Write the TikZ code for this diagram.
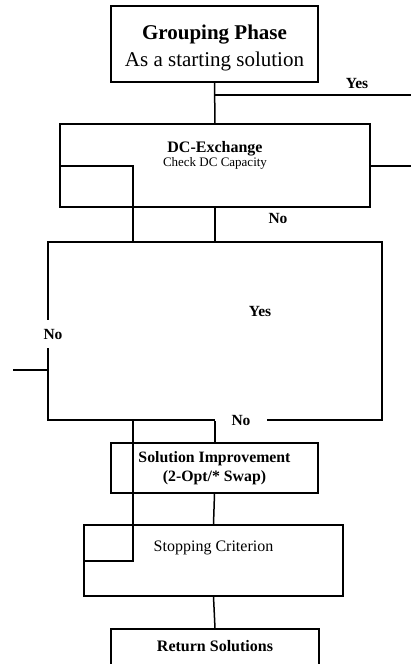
\documentclass[tikz,border=0pt]{standalone}
\usepackage{fontspec}
\setmainfont{Liberation Serif}
\usetikzlibrary{positioning}
\begin{document}
\begin{tikzpicture}[x=1pt,y=-1pt,
  box/.style={draw,line width=1.5pt,inner sep=0pt},
  wire/.style={line width=1.5pt},
  tag/.style={font=\fontsize{15.5}{17}\selectfont\bfseries,inner sep=0pt},
  gap/.style={tag,fill=white}]
  \useasboundingbox (0,0) rectangle (411,664);
  \clip (0,0) rectangle (411,664);
  \node[box,minimum width=207,minimum height=76] (group) at (214.5,44) {};
  \node[align=center,inner sep=0pt,font=\fontsize{21}{27}\selectfont]
    (grouptext) at ([yshift=-4pt]group.center)
    {\textbf{Grouping Phase}\\As a starting solution};
  \node[box,minimum width=310,minimum height=83] (dc) at (215,165.5) {};
  \node[align=center,inner sep=0pt,below=18pt of dc.north] (dctext)
    {{\fontsize{16}{16}\selectfont\bfseries DC-Exchange}\\[0pt]
     {\fontsize{13}{13}\selectfont Check DC Capacity}};
  \node[box,minimum width=334,minimum height=178] (big) at (215,331) {};
  \node[box,minimum width=207,minimum height=50,align=center,
        font=\fontsize{15.8}{19}\selectfont\bfseries] (si) at (214.5,468)
    {Solution Improvement\\(2-Opt/* Swap)};
  \node[box,minimum width=259,minimum height=71] (stop) at (213.5,560.5) {};
  \node[inner sep=0pt,font=\fontsize{16}{18}\selectfont,below=16pt of stop.north] (stoptext)
    {Stopping Criterion};
  \node[box,minimum width=208,minimum height=60] (ret) at (215,659) {};
  \node[inner sep=0pt,font=\fontsize{16}{18}\selectfont\bfseries,below=12pt of ret.north] (rettext)
    {Return Solutions};

  \node[gap,inner xsep=2pt,inner ysep=9pt] (noleft) at (53,334) {No};
  \node[gap,inner xsep=16.5pt,inner ysep=4pt] (nobottom) at (241,420) {No};

  \coordinate (yesend) at (411,95);
  \coordinate (dcout) at (411,166);
  \coordinate (bend1) at (133,166);
  \coordinate (bend2) at (133,561);
  \coordinate (stub) at (13,370);
  \draw[wire] (group.south) -- (dc.north);
  \draw[wire] (group.south |- yesend) -- (yesend);
  \draw[wire] (dc.east |- dcout) -- (dcout);
  \draw[wire] (dc.west |- bend1) -- (bend1) -- (bend1 |- big.north);
  \draw[wire] (dc.south) -- (dc.south |- big.north);
  \draw[wire] (bend1 |- big.south) -- (bend2) -- (stop.west |- bend2);
  \draw[wire] (big.south) -- (big.south |- si.north);
  \draw[wire] (si.south) -- (stop.north);
  \draw[wire] (stop.south) -- (ret.north);
  \draw[wire] (stub) -- (big.west |- stub);

  \node[tag] (yestop) at (357,83) {Yes};
  \node[tag] (nodc) at (278,218) {No};
  \node[tag] (yesmid) at (260,311) {Yes};
\end{tikzpicture}
\end{document}
